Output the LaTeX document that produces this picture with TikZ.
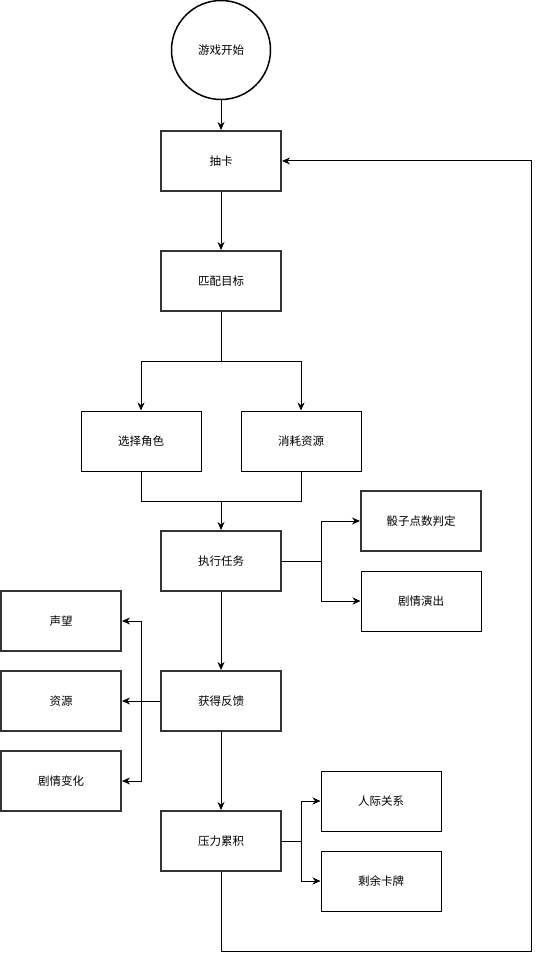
\documentclass[tikz,border=0pt]{standalone}
\usepackage{fontspec}
\setmainfont{Noto Sans CJK SC}
\usepackage{tikz}
\usetikzlibrary{arrows.meta}

\begin{document}
\begin{tikzpicture}[x=1pt, y=-1pt,
        font=\fontsize{11.5}{13}\selectfont,
        caja/.style={draw, line width=1pt, minimum width=120pt, minimum height=60pt, inner sep=0pt},
        cajag/.style={caja, draw=black!80, line width=2pt},
        flecha/.style={-{Stealth[length=8pt, width=7pt]}, line width=1pt},
        linea/.style={line width=1pt}]
        \useasboundingbox (0,0) rectangle (540,960);

        % inicio y columna central
        \node[draw, circle, line width=1.5pt, minimum size=99pt, inner sep=0pt] (inicio) at (221,50) {游戏开始};
        \node[cajag] (chou) at (221,161) {抽卡};
        \node[cajag] (pipei) at (221,281) {匹配目标};
        \node[caja] (juese) at (141,441) {选择角色};
        \node[caja] (ziyuanA) at (301,441) {消耗资源};
        \node[cajag] (renwu) at (221,561) {执行任务};
        \node[cajag] (touzi) at (421,521) {骰子点数判定};
        \node[caja] (yanchu) at (421,601) {剧情演出};
        \node[cajag] (fankui) at (221,701) {获得反馈};
        \node[cajag] (shengwang) at (61,621) {声望};
        \node[cajag] (ziyuanB) at (61,701) {资源};
        \node[cajag] (bianhua) at (61,781) {剧情变化};
        \node[cajag] (yali) at (221,841) {压力累积};
        \node[caja] (renji) at (381,801) {人际关系};
        \node[caja] (shengyu) at (381,881) {剩余卡牌};

        % puntos de bifurcación
        \coordinate (split) at (221,361);
        \coordinate (merge) at (221,501);
        \coordinate (rfork) at (321,561);
        \coordinate (ffork) at (141,701);
        \coordinate (yfork) at (301,841);
        \coordinate (vuelta) at (531,951);

        \draw[flecha] (inicio) -- (chou);
        \draw[flecha] (chou) -- (pipei);
        \draw[linea] (pipei) -- (split);
        \draw[flecha] (split) -| (juese);
        \draw[flecha] (split) -| (ziyuanA);
        \draw[linea] (juese) |- (merge);
        \draw[linea] (ziyuanA) |- (merge);
        \draw[flecha] (merge) -- (renwu);

        \draw[linea] (renwu) -- (rfork);
        \draw[flecha] (rfork) |- (touzi);
        \draw[flecha] (rfork) |- (yanchu);
        \draw[flecha] (renwu) -- (fankui);

        \draw[flecha] (fankui) -- (ziyuanB);
        \draw[flecha] (ffork) |- (shengwang);
        \draw[flecha] (ffork) |- (bianhua);
        \draw[flecha] (fankui) -- (yali);

        \draw[linea] (yali) -- (yfork);
        \draw[flecha] (yfork) |- (renji);
        \draw[flecha] (yfork) |- (shengyu);

        % regreso al inicio del ciclo
        \draw[flecha] (yali) |- (vuelta) |- (chou);
\end{tikzpicture}
\end{document}
